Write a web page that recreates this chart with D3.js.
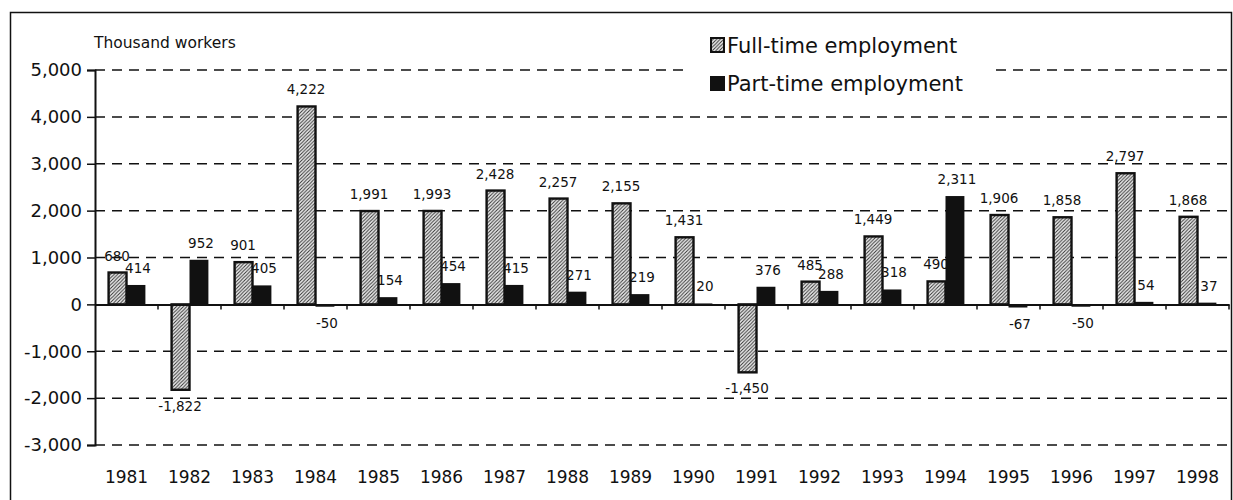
<!DOCTYPE html>
<html>
<head>
<meta charset="utf-8">
<script src="https://cdn.jsdelivr.net/npm/d3@7/dist/d3.min.js"></script>
<style>
  html, body { margin: 0; padding: 0; background: #fff; }
  svg { display: block; }
  text { font-family: "DejaVu Sans", sans-serif; fill: #111; }
</style>
</head>
<body>
<svg id="chart" width="1233" height="500"></svg>
<script>
const years = ["1981","1982","1983","1984","1985","1986","1987","1988","1989","1990","1991","1992","1993","1994","1995","1996","1997","1998"];
const fullTime = [680, -1822, 901, 4222, 1991, 1993, 2428, 2257, 2155, 1431, -1450, 485, 1449, 490, 1906, 1858, 2797, 1868];
const partTime = [414, 952, 405, -50, 154, 454, 415, 271, 219, 20, 376, 288, 318, 2311, -67, -50, 54, 37];
const yTicks = [-3000, -2000, -1000, 0, 1000, 2000, 3000, 4000, 5000];
const seriesNames = ["Full-time employment", "Part-time employment"];
const yUnit = "Thousand workers";

const svg = d3.select("#chart");
const fmt = v => d3.format(",")(v).replace("\u2212", "-");

const x = d3.scaleBand().domain(years).range([95, 1229]).paddingInner(0.4).paddingOuter(0.2);
const x1 = d3.scaleBand().domain(["full", "part"]).range([0, x.bandwidth()]);
const y = d3.scaleLinear().domain([-3000, 5000]).range([445, 70]);

// pattern
const defs = svg.append("defs");
const pat = defs.append("pattern").attr("id", "hatch").attr("patternUnits", "userSpaceOnUse")
  .attr("width", 3.5).attr("height", 3.5);
pat.append("rect").attr("width", 3.5).attr("height", 3.5).attr("fill", "#eee");
pat.append("path").attr("d", "M-1,1 l2,-2 M0,3.5 l3.5,-3.5 M2.5,4.5 l2,-2")
  .attr("stroke", "#333").attr("stroke-width", 1);

// outer frame
svg.append("rect").attr("x", 10.5).attr("y", 12.5).attr("width", 1221).attr("height", 500)
  .attr("fill", "none").attr("stroke", "#111").attr("stroke-width", 1.5);

// gridlines
svg.append("g").selectAll("line").data(yTicks.filter(d => d !== 0)).join("line")
  .attr("x1", 95).attr("x2", 1229)
  .attr("y1", d => y(d)).attr("y2", d => y(d))
  .attr("stroke", "#111").attr("stroke-width", 1.5).attr("stroke-dasharray", "10,7");

// y axis
const yAxis = svg.append("g").attr("transform", "translate(95,0)")
  .call(d3.axisLeft(y).tickValues(yTicks).tickSize(8).tickPadding(5).tickFormat(fmt));
yAxis.select(".domain").attr("stroke", "#111").attr("stroke-width", 2);
yAxis.selectAll(".tick line").attr("stroke", "#111").attr("stroke-width", 1.5);
yAxis.selectAll(".tick text").style("font-family", "DejaVu Sans").style("font-size", "18px").attr("fill", "#111");

// unit label
svg.append("text").attr("x", 94).attr("y", 48).style("font-size", "15.5px").text(yUnit);

// legend background (hides gridline)
svg.append("rect").attr("x", 687).attr("y", 20).attr("width", 306).attr("height", 80).attr("fill", "#fff");

// value labels (drawn beneath bars)
const groups = svg.append("g");
years.forEach((yr, i) => {
  [["full", fullTime[i]], ["part", partTime[i]]].forEach(([k, v]) => {
    const cx = x(yr) + x1(k) + x1.bandwidth() / 2 + (k === "part" ? 2 : 0);
    groups.append("text")
      .attr("x", cx)
      .attr("y", v >= 0 ? y(v) - 12 : y(v) + 21)
      .attr("text-anchor", "middle")
      .style("font-size", "13.5px")
      .text(fmt(v));
  });
});

// bars
const bars = svg.append("g");
years.forEach((yr, i) => {
  const vf = fullTime[i], vp = partTime[i];
  bars.append("rect")
    .attr("x", x(yr) + x1("full") + 1)
    .attr("y", Math.min(y(vf), y(0)))
    .attr("width", x1.bandwidth() - 1)
    .attr("height", Math.abs(y(vf) - y(0)))
    .attr("fill", "url(#hatch)").attr("stroke", "#111").attr("stroke-width", 2.4);
  bars.append("rect")
    .attr("x", x(yr) + x1("part"))
    .attr("y", Math.min(y(vp), y(0)))
    .attr("width", x1.bandwidth())
    .attr("height", Math.max(1, Math.abs(y(vp) - y(0))))
    .attr("fill", "#111");
});

// zero axis
const xAxis = svg.append("g").attr("transform", `translate(0,${y(0)})`)
  .call(d3.axisBottom(x).tickSize(0).tickFormat(""));
xAxis.select(".domain").attr("stroke", "#111").attr("stroke-width", 2);
svg.append("g").selectAll("line").data(years).join("line")
  .attr("x1", d => x(d) - x.step() * x.paddingInner() / 2 + x.step())
  .attr("x2", d => x(d) - x.step() * x.paddingInner() / 2 + x.step())
  .attr("y1", y(0)).attr("y2", y(0) + 5)
  .attr("stroke", "#111").attr("stroke-width", 1.5);

// year labels
const xLab = svg.append("g").attr("transform", "translate(0,470)")
  .call(d3.axisBottom(x).tickSize(0).tickPadding(0));
xLab.select(".domain").remove();
xLab.selectAll(".tick text").style("font-family", "DejaVu Sans").style("font-size", "17px")
  .attr("fill", "#111").attr("dy", "0.75em");

// legend
const leg = svg.append("g");
leg.append("rect").attr("x", 711).attr("y", 38).attr("width", 13).attr("height", 14)
  .attr("fill", "url(#hatch)").attr("stroke", "#111").attr("stroke-width", 2);
leg.append("text").attr("x", 727).attr("y", 53).style("font-size", "21px").text(seriesNames[0]);
leg.append("rect").attr("x", 710).attr("y", 76).attr("width", 15).attr("height", 15).attr("fill", "#111");
leg.append("text").attr("x", 727).attr("y", 91).style("font-size", "21px").text(seriesNames[1]);
</script>
</body>
</html>
